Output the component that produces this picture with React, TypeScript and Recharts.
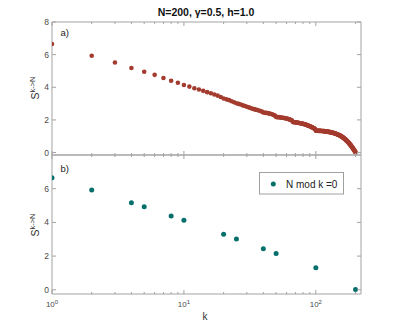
import { ScatterChart, Scatter, XAxis, YAxis } from "recharts";

const AXIS = "#a3a3a3";
const LABEL = "#4a4a4a";
const RED = "#a33b2e";
const TEAL = "#05706b";
const FONT = '"Liberation Sans", Arial, sans-serif';

// k = 1..200
const K_ALL = Array.from({ length: 200 }, (_, i) => i + 1);

// S^{k->N} read off panel a)
const S_ALL = [
  6.65, 5.93, 5.52, 5.18, 4.95, 4.76, 4.57, 4.40, 4.28, 4.14,
  4.04, 3.94, 3.86, 3.78, 3.70, 3.63, 3.56, 3.49, 3.40, 3.31,
  3.26, 3.21, 3.14, 3.08, 3.02, 2.98, 2.94, 2.89, 2.85, 2.81,
  2.77, 2.73, 2.68, 2.66, 2.63, 2.61, 2.58, 2.55, 2.51, 2.45,
  2.44, 2.43, 2.42, 2.40, 2.38, 2.36, 2.33, 2.30, 2.26, 2.18,
  2.17, 2.17, 2.16, 2.15, 2.14, 2.13, 2.12, 2.11, 2.10, 2.08,
  2.07, 2.05, 2.03, 2.01, 1.99, 1.96, 1.87, 1.86, 1.86, 1.85,
  1.85, 1.84, 1.83, 1.82, 1.81, 1.80, 1.79, 1.78, 1.77, 1.76,
  1.75, 1.73, 1.72, 1.71, 1.69, 1.68, 1.66, 1.65, 1.63, 1.61,
  1.60, 1.58, 1.56, 1.54, 1.52, 1.50, 1.48, 1.46, 1.43, 1.34,
  1.34, 1.34, 1.34, 1.34, 1.33, 1.33, 1.33, 1.33, 1.33, 1.32,
  1.32, 1.32, 1.32, 1.31, 1.31, 1.31, 1.30, 1.30, 1.30, 1.29,
  1.29, 1.28, 1.28, 1.27, 1.27, 1.26, 1.26, 1.25, 1.25, 1.24,
  1.23, 1.23, 1.22, 1.21, 1.21, 1.20, 1.19, 1.18, 1.18, 1.17,
  1.16, 1.15, 1.14, 1.13, 1.12, 1.11, 1.10, 1.09, 1.08, 1.07,
  1.06, 1.05, 1.03, 1.02, 1.01, 0.99, 0.98, 0.96, 0.95, 0.93,
  0.92, 0.90, 0.88, 0.87, 0.85, 0.83, 0.81, 0.79, 0.77, 0.75,
  0.73, 0.71, 0.69, 0.67, 0.65, 0.63, 0.61, 0.58, 0.56, 0.54,
  0.51, 0.49, 0.47, 0.44, 0.42, 0.39, 0.37, 0.34, 0.31, 0.29,
  0.26, 0.23, 0.20, 0.18, 0.15, 0.12, 0.09, 0.07, 0.04, 0.02,
];

// panel b): divisors of N
const DIV_K = [1, 2, 4, 5, 8, 10, 20, 25, 40, 50, 100, 200];
const DIV_S = [6.65, 5.92, 5.17, 4.93, 4.38, 4.12, 3.29, 3.01, 2.44, 2.16, 1.31, 0.02];

const X_TICKS = [1, 2, 3, 4, 5, 6, 7, 8, 9, 10, 20, 30, 40, 50, 60, 70, 80, 90, 100, 200];
const X_MAJOR = [1, 10, 100];
const Y_TICKS_A = [0, 2, 4, 6, 8];
const Y_TICKS_B = [0, 2, 4, 6];

const dataA = K_ALL.map((k, i) => ({ k, s: S_ALL[i] }));
const dataB = DIV_K.map((k, i) => ({ k, s: DIV_S[i] }));

function xTick(side: "bottom" | "top", labels: boolean) {
  return (p: any) => {
    const { x, y, payload } = p;
    const v = payload.value;
    const major = X_MAJOR.includes(v);
    const len = major ? 4 : 2;
    const dir = side === "bottom" ? -1 : 1;
    return (
      <g>
        <line x1={x} y1={y} x2={x} y2={y + dir * len} stroke={AXIS} />
        {labels && major && (
          <text x={x} y={y + 13} textAnchor="middle" fontSize={8} fill={LABEL} fontFamily={FONT}>
            10<tspan dy={-3.5} fontSize={6}>{String(Math.round(Math.log10(v)))}</tspan>
          </text>
        )}
      </g>
    );
  };
}

function yTick(side: "left" | "right") {
  return (p: any) => {
    const { x, y, payload } = p;
    const dir = side === "left" ? 1 : -1;
    return (
      <g>
        <line x1={x} y1={y} x2={x + dir * 4} y2={y} stroke={AXIS} />
        {side === "left" && (
          <text x={x - 3} y={y + 3} textAnchor="end" fontSize={8.5} fill={LABEL} fontFamily={FONT}>
            {payload.value}
          </text>
        )}
      </g>
    );
  };
}

const dot = (color: string, r: number) => (p: any) => <circle cx={p.cx} cy={p.cy} r={r} fill={color} />;

// axes take 1px each (0 makes Recharts skip them), so margins are 1px smaller than the plot box
function Panel({ data, color, r, top, height, margin, yDomain, yTicks, xLabels }: any) {
  return (
    <div style={{ position: "absolute", left: 0, top }}>
      <ScatterChart width={399} height={height} margin={margin}>
        <XAxis xAxisId="b" type="number" dataKey="k" scale="log" domain={[1, 220]} allowDataOverflow
          ticks={X_TICKS} interval={0} tick={xTick("bottom", xLabels)} tickLine={false} tickSize={0} tickMargin={0}
          height={1} axisLine={{ stroke: AXIS }} />
        <XAxis xAxisId="t" orientation="top" type="number" dataKey="k" scale="log" domain={[1, 220]} allowDataOverflow
          ticks={X_TICKS} interval={0} tick={xTick("top", false)} tickLine={false} tickSize={0} tickMargin={0}
          height={1} axisLine={{ stroke: AXIS }} />
        <YAxis yAxisId="l" type="number" dataKey="s" domain={yDomain} allowDataOverflow ticks={yTicks} interval={0}
          tick={yTick("left")} tickLine={false} tickSize={0} tickMargin={0} width={1} axisLine={{ stroke: AXIS }} />
        <YAxis yAxisId="r" orientation="right" type="number" dataKey="s" domain={yDomain} allowDataOverflow ticks={yTicks}
          interval={0} tick={yTick("right")} tickLine={false} tickSize={0} tickMargin={0} width={1} axisLine={{ stroke: AXIS }} />
        <Scatter data={data} xAxisId="b" yAxisId="l" fill={color} shape={dot(color, r)} isAnimationActive={false} />
      </ScatterChart>
    </div>
  );
}

export default function App() {
  return (
    <div style={{ position: "absolute", left: 0, top: 0, width: 399, height: 327, background: "#fff" }}>
      <Panel data={dataA} color={RED} r={2.3} top={0} height={160}
        margin={{ top: 21, right: 37, bottom: 4, left: 51 }} yDomain={[-0.15, 8]} yTicks={Y_TICKS_A} xLabels={false} />
      <Panel data={dataB} color={TEAL} r={2.5} top={150} height={177}
        margin={{ top: 4, right: 37, bottom: 32, left: 51 }} yDomain={[-0.25, 8]} yTicks={Y_TICKS_B} xLabels={true} />
      <svg width={399} height={327} style={{ position: "absolute", left: 0, top: 0, pointerEvents: "none" }}
        fontFamily={FONT}>
        <text x={206} y={16} textAnchor="middle" fontWeight="bold" fontSize={10.5} fill="#111">
          N=200, γ=0.5, h=1.0
        </text>
        <text x={60.5} y={35.5} fontSize={9.5} fill="#222">a)</text>
        <text x={60.5} y={171.5} fontSize={9.5} fill="#222">b)</text>
        <text x={38.5} y={88} transform="rotate(-90 38.5 88)" textAnchor="middle" fontSize={10.5} fill="#333">
          S<tspan dy={-4} fontSize={7.5}>{"k->N"}</tspan>
        </text>
        <text x={38.5} y={225} transform="rotate(-90 38.5 225)" textAnchor="middle" fontSize={10.5} fill="#333">
          S<tspan dy={-4} fontSize={7.5}>{"k->N"}</tspan>
        </text>
        <text x={205} y={320} textAnchor="middle" fontSize={10} fill="#333">k</text>
        <rect x={259.5} y={172.5} width={84} height={21.5} fill="#fff" stroke="#a0a0a0" />
        <circle cx={273.3} cy={184} r={2.5} fill={TEAL} />
        <text x={286} y={187.5} fontSize={10} fill="#222">N mod k =0</text>
      </svg>
    </div>
  );
}
